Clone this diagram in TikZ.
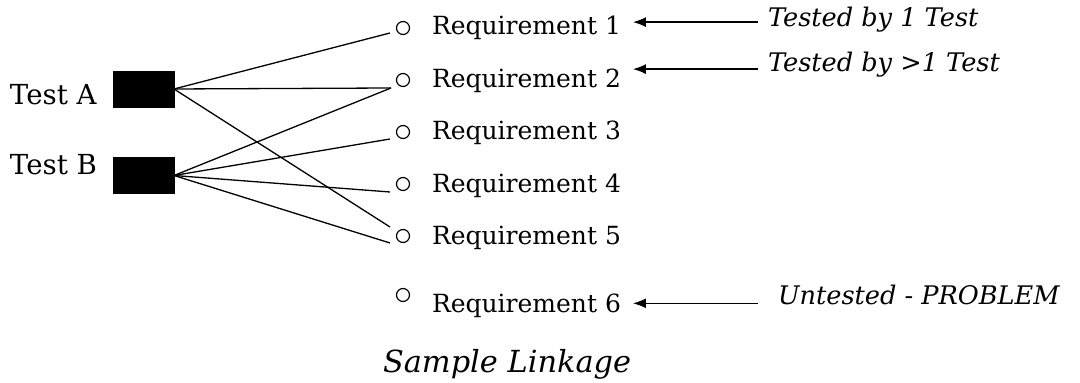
\documentclass[tikz,border=0pt]{standalone}
\usepackage{fontspec}
\setmainfont{DejaVu Serif}
\usetikzlibrary{arrows.meta,positioning}

\begin{document}
\begin{tikzpicture}[
    x=0.5pt, y=-0.5pt,
    every node/.style={inner sep=0pt, outer sep=0pt},
    testbox/.style={draw, fill=black, minimum width=30.5pt, minimum height=18pt},
    port/.style={draw, circle, line width=0.6pt, minimum size=6.5pt},
    req/.style={anchor=base west, font=\fontsize{12.5}{15}\selectfont},
    tname/.style={anchor=base west, font=\fontsize{13.8}{16}\selectfont},
    note/.style={anchor=base west, font=\fontsize{12.8}{15}\selectfont\itshape},
    link/.style={line width=0.65pt},
    pointer/.style={-{Latex[length=6.5pt, width=5pt]}, line width=0.65pt}
]
\useasboundingbox (0,0) rectangle (1080,383);

% tests
\node[testbox] (testA) at (143.5,89) {};
\node[testbox] (testB) at (143.5,175.5) {};
\node[tname] (labA) at (10,105) {Test A};
\node[tname] (labB) at (10,175) {Test B};

% requirements
\foreach \n/\yc/\yb in {1/28/35, 2/80/88, 3/132/140, 4/184/193, 5/236/245, 6/295/313} {
    \node[port] (c\n) at (403,\yc) {};
    \node[req] (r\n) at (432,\yb) {Requirement \n};
}
\coordinate (in1) at (390,33);
\coordinate (in2) at (391,88);
\coordinate (in3) at (390,139);
\coordinate (in4) at (390,192);
\coordinate (in5a) at (390,227);
\coordinate (in5b) at (390,243);

% linkage
\draw[link] (testA.east) -- (in1);
\draw[link] (testA.east) -- (in2);
\draw[link] (testA.east) -- (in5a);
\draw[link] (testB.east) -- (in2);
\draw[link] (testB.east) -- (in3);
\draw[link] (testB.east) -- (in4);
\draw[link] (testB.east) -- (in5b);

% notes
\node[note] (t1) at (768,27) {Tested by 1 Test};
\node[note] (t2) at (768,72) {Tested by >1 Test};
\node[note] (t6) at (778,305) {Untested - PROBLEM};
\draw[pointer] ([xshift=-5pt,yshift=-1pt]t1.west) -- ([xshift=6pt,yshift=-1pt]t1.west -| r1.east);
\draw[pointer] ([xshift=-5pt,yshift=-2pt]t2.west) -- ([xshift=6pt,yshift=-2pt]t2.west -| r2.east);
\draw[pointer] ([xshift=-10pt,yshift=1.5pt]t6.west |- r6.east) -- ([xshift=6pt,yshift=1.5pt]r6.east);

\node[note, font=\fontsize{15.2}{18}\selectfont\itshape] (title) at (383,373) {Sample Linkage};
\end{tikzpicture}
\end{document}
